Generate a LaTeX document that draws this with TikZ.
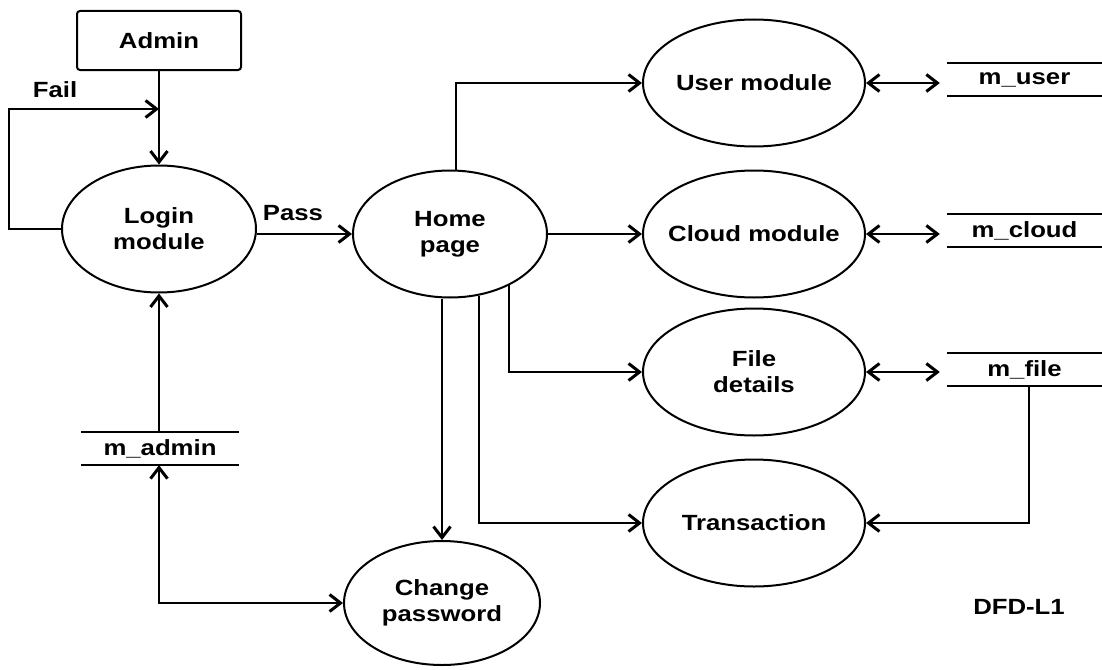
\documentclass[tikz,border=0pt]{standalone}
\usepackage{fontspec}
\setmainfont{Liberation Sans}[FakeStretch=1.17]
\usetikzlibrary{arrows.meta,shapes.geometric,calc}

\begin{document}
\begin{tikzpicture}[x=1pt,y=-1pt,
  every node/.style={font=\fontsize{22}{26}\selectfont\bfseries, align=center},
  proc/.style={ellipse, draw, line width=2pt, inner sep=0pt,
               minimum width=#1, minimum height=127pt},
  proc/.default=194pt,
  entity/.style={draw, line width=2pt, rounded corners=3pt,
                 minimum width=164pt, minimum height=59pt},
  store/.style={minimum width=#1, minimum height=33pt, inner sep=0pt},
  store/.default=155pt,
  flow/.style={line width=2.2pt, -{Straight Barb[length=11pt,width=17pt,line width=3pt]}},
  both/.style={line width=2.2pt, {Straight Barb[length=11pt,width=17pt,line width=3pt]}-{Straight Barb[length=11pt,width=17pt,line width=3pt]}},
  rule/.style={line width=2.2pt}
]
\useasboundingbox (0,0) rectangle (1102,669);

% external entity and processes
\node[entity] (admin) at (159,40.5) {Admin};
\node[proc] (login) at (159,229) {};
\node at (login.center) {Login\\module};
\node[proc] (home) at (450,234) {};
\node at (home.center) {Home\\page};
\node[proc=222pt] (user) at (754,83) {};
\node at (user.center) {User module};
\node[proc=222pt] (cloud) at (754,234) {};
\node at (cloud.center) {Cloud module};
\node[proc=222pt] (file) at (754,372) {};
\node at (file.center) {File\\details};
\node[proc=222pt] (trans) at (754,523) {};
\node at (trans.center) {Transaction};
\node[proc=196pt, minimum height=124pt] (chpw) at (442,603) {};
\node at (chpw.center) {Change\\password};

% data stores
\node[store] (muser) at (1024.5,79.5) {m\_user};
\node[store] (mcloud) at (1024.5,230.5) {m\_cloud};
\node[store] (mfile) at (1024.5,369.5) {m\_file};
\node[store=157pt] (madmin) at (160,448.5) {m\_admin};
\foreach \s in {muser,mcloud,mfile,madmin}{
  \draw[rule] (\s.north west) -- (\s.north east);
  \draw[rule] (\s.south west) -- (\s.south east);
}

% login flows
\coordinate (failin) at (159,109);
\draw[flow] (admin.south) -- (login.north);
\draw[flow] (login.west) -- ++(-52,0) |- (failin);
\node at (55,90) {Fail};
\draw[flow] (login.east |- home.west) -- (home.west);
\node at (293,213) {Pass};
\draw[flow] (madmin.north -| login.south) -- (login.south);
\draw[both] (madmin.south -| login.south) |- (chpw.west);

% home page flows
\draw[flow] ([xshift=6pt]home.north) |- (user.west);
\draw[flow] (home.east) -- (home.east -| cloud.west);
\draw[flow] (home.-41) |- (file.west);
\draw[flow] (home.-65) |- (trans.west);
\draw[flow] (home.south -| chpw.north) -- (chpw.north);

% process to store flows
\draw[both] (user.east) -- ([xshift=-7pt]user.east -| muser.west);
\draw[both] (cloud.east) -- ([xshift=-7pt]cloud.east -| mcloud.west);
\draw[both] (file.east) -- ([xshift=-7pt]file.east -| mfile.west);
\draw[flow] ([xshift=4.5pt]mfile.south) |- (trans.east);

\node at (1019,607) {DFD-L1};
\end{tikzpicture}
\end{document}
